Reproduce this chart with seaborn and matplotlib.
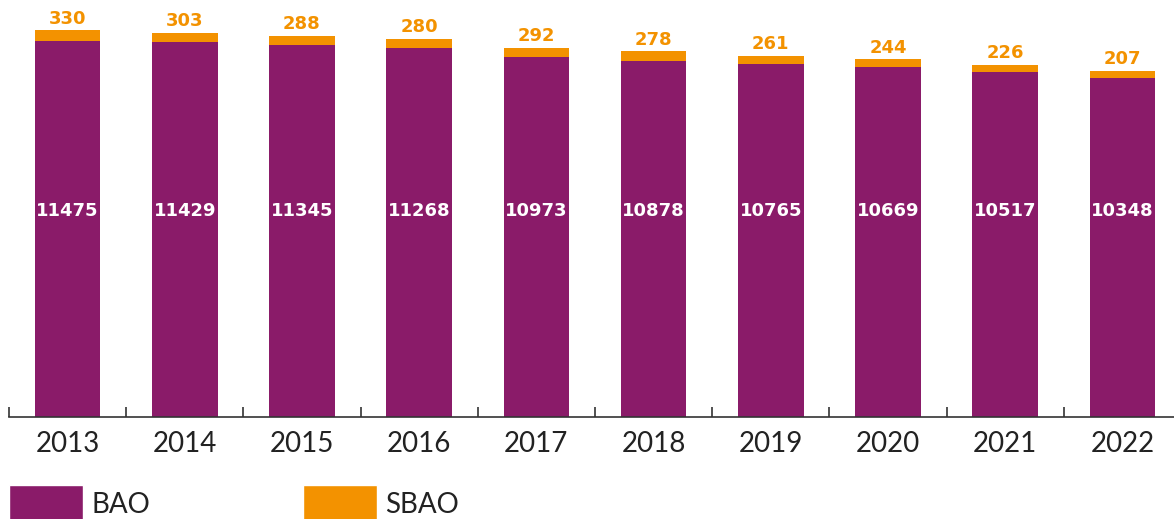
import matplotlib
matplotlib.use("Agg")
import matplotlib.pyplot as plt
from matplotlib.patches import Patch
import seaborn as sns
import pandas as pd

# data
years = ["2013", "2014", "2015", "2016", "2017", "2018", "2019", "2020", "2021", "2022"]
bao = [11475, 11429, 11345, 11268, 10973, 10878, 10765, 10669, 10517, 10348]
sbao = [330, 303, 288, 280, 292, 278, 261, 244, 226, 207]

purple = "#8A1B69"
orange = "#F39200"
dark = "#222222"

df = pd.DataFrame({"year": years, "BAO": bao, "SBAO": sbao})
df["total"] = df["BAO"] + df["SBAO"]

sns.set_style("white")
plt.rcParams["font.family"] = ["Lato", "DejaVu Sans"]

fig = plt.figure(figsize=(11.74, 5.19), dpi=100)
ax = fig.add_axes([9 / 1174, 102 / 519, 1172 / 1174, 417 / 519])

# stacked: total in orange behind, BAO in purple in front
sns.barplot(data=df, x="year", y="total", color=orange, width=0.56, saturation=1,
            linewidth=0, ax=ax)
sns.barplot(data=df, x="year", y="BAO", color=purple, width=0.56, saturation=1,
            linewidth=0, ax=ax)

ax.set_xlim(-0.5, 9.5)
ax.set_ylim(0, 12725)

for i, row in df.iterrows():
    ax.text(i, 6300, f"{row['BAO']}", color="white", fontsize=13, fontweight="bold",
            ha="center", va="center", family="DejaVu Sans")
    ax.text(i, row["total"] + 80, f"{row['SBAO']}", color=orange, fontsize=13,
            fontweight="bold", ha="center", va="bottom", family="DejaVu Sans")

for s in ["top", "right", "left"]:
    ax.spines[s].set_visible(False)
ax.spines["bottom"].set_color("#333333")
ax.spines["bottom"].set_linewidth(1.2)
ax.set_yticks([])
ax.set_xlabel("")
ax.set_ylabel("")
ax.set_xticks(range(len(years)))
ax.set_xticklabels(years)
ax.set_xticks([i - 0.5 for i in range(len(years) + 1)], minor=True)
ax.tick_params(axis="x", which="major", bottom=True, length=0, pad=10, labelsize=20,
               labelcolor=dark)
ax.tick_params(axis="x", which="minor", bottom=True, direction="in", length=7, width=1.2,
               color="#333333")

handles = [Patch(facecolor=purple, label="BAO"), Patch(facecolor=orange, label="SBAO")]
fig.legend(handles=handles, loc="upper left", bbox_to_anchor=(9 / 1174, 1 - 485 / 519),
           ncol=2, frameon=False, fontsize=20, handlelength=2.66, handleheight=1.7,
           handletextpad=0.3, columnspacing=5.5, borderpad=0, borderaxespad=0,
           labelcolor=dark)

fig.savefig("out.png", dpi=100)
